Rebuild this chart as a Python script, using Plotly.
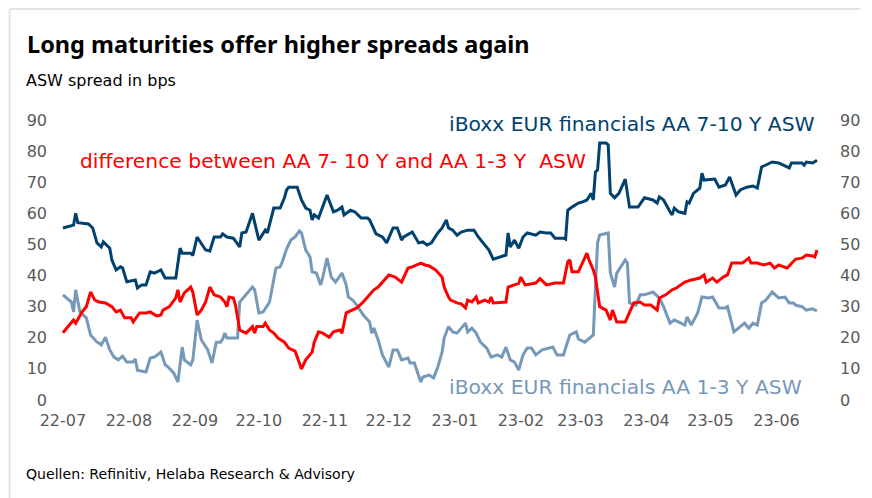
import plotly.graph_objects as go

# iBoxx EUR financials AA 7-10 Y ASW (bps)
long_dates = ["2022-07-01","2022-07-06","2022-07-07","2022-07-08","2022-07-13","2022-07-15","2022-07-17","2022-07-19","2022-07-20","2022-07-23","2022-07-24","2022-07-26","2022-07-28","2022-07-29","2022-07-31",
 "2022-08-04","2022-08-05","2022-08-07","2022-08-09","2022-08-11","2022-08-13","2022-08-16","2022-08-18","2022-08-23","2022-08-25","2022-08-26","2022-08-30","2022-08-31",
 "2022-09-02","2022-09-04","2022-09-06","2022-09-08","2022-09-10","2022-09-13","2022-09-14","2022-09-16","2022-09-19","2022-09-22","2022-09-23","2022-09-25","2022-09-28",
 "2022-10-01","2022-10-03","2022-10-04","2022-10-05","2022-10-08","2022-10-11","2022-10-13","2022-10-14","2022-10-15","2022-10-19","2022-10-21","2022-10-23","2022-10-25","2022-10-26","2022-10-27","2022-10-29","2022-10-31",
 "2022-11-02","2022-11-05","2022-11-07","2022-11-09","2022-11-10","2022-11-13","2022-11-15","2022-11-18","2022-11-21","2022-11-22","2022-11-23","2022-11-25","2022-11-28","2022-11-30",
 "2022-12-03","2022-12-05","2022-12-07","2022-12-08","2022-12-12","2022-12-15","2022-12-17","2022-12-19","2022-12-21","2022-12-24","2022-12-26","2022-12-28","2022-12-29","2022-12-31",
 "2023-01-02","2023-01-04","2023-01-07","2023-01-10","2023-01-12","2023-01-15","2023-01-17","2023-01-19","2023-01-22","2023-01-25","2023-01-26","2023-01-27","2023-01-29","2023-01-31",
 "2023-02-02","2023-02-04","2023-02-08","2023-02-10","2023-02-13","2023-02-15","2023-02-17","2023-02-21","2023-02-22","2023-02-23","2023-02-25","2023-02-28",
 "2023-03-02","2023-03-04","2023-03-06","2023-03-07","2023-03-08","2023-03-09","2023-03-10","2023-03-13","2023-03-14","2023-03-15","2023-03-17","2023-03-19","2023-03-22","2023-03-24","2023-03-28","2023-03-31",
 "2023-04-04","2023-04-06","2023-04-07","2023-04-09","2023-04-12","2023-04-13","2023-04-14","2023-04-16","2023-04-19","2023-04-20","2023-04-21","2023-04-23","2023-04-26","2023-04-27","2023-04-28",
 "2023-05-03","2023-05-05","2023-05-08","2023-05-10","2023-05-13","2023-05-15","2023-05-18","2023-05-21","2023-05-23","2023-05-25","2023-05-27","2023-05-30",
 "2023-06-02","2023-06-07","2023-06-08","2023-06-13","2023-06-14","2023-06-15","2023-06-18","2023-06-20"]
long_vals = [55.3,56.2,60.0,57.0,56.6,55.3,50.5,49.2,50.8,48.8,45.0,41.8,42.8,42.5,38.0,
 38.6,36.0,37.0,37.0,41.2,40.8,41.8,39.2,39.2,48.8,47.2,47.2,46.5,
 52.4,50.5,48.2,47.9,52.4,52.4,53.4,52.4,52.0,49.2,53.7,54.0,60.0,
 51.4,53.7,54.6,53.7,61.7,61.7,65.0,67.5,68.4,68.4,64.3,61.7,61.0,57.9,59.5,58.5,62.0,
 65.9,60.5,61.0,62.0,59.5,61.0,60.5,58.5,58.5,57.9,56.2,53.4,52.4,50.5,
 55.3,55.3,51.4,52.4,54.0,50.5,50.8,49.8,50.5,53.7,55.3,57.9,55.3,54.6,
 53.0,54.0,54.6,54.6,52.4,49.8,48.2,45.3,46.0,46.6,53.7,49.2,51.4,48.8,
 52.4,53.7,53.0,54.0,53.7,53.7,52.0,52.0,51.7,61.0,62.0,63.3,
 63.7,64.3,66.4,64.3,73.3,73.9,82.6,82.6,82.0,66.4,65.0,66.4,71.0,62.0,62.0,65.0,
 64.3,63.3,65.3,64.3,60.5,59.5,61.7,60.5,60.0,63.7,63.3,66.4,68.1,72.9,70.7,
 71.0,68.4,69.1,71.7,65.9,67.5,68.4,68.8,68.1,74.9,75.5,76.5,
 76.2,74.6,76.2,76.2,75.5,76.5,76.2,77.1]

# difference between AA 7-10 Y and AA 1-3 Y ASW (bps)
diff_dates = ["2022-07-01","2022-07-06","2022-07-07","2022-07-10","2022-07-12","2022-07-14","2022-07-16","2022-07-18","2022-07-21","2022-07-24","2022-07-26","2022-07-28","2022-07-30",
 "2022-08-02","2022-08-03","2022-08-06","2022-08-09","2022-08-11","2022-08-14","2022-08-16","2022-08-17","2022-08-20","2022-08-23","2022-08-24","2022-08-25","2022-08-27","2022-08-30","2022-08-31",
 "2022-09-02","2022-09-04","2022-09-06","2022-09-08","2022-09-10","2022-09-13","2022-09-15","2022-09-16","2022-09-17","2022-09-19","2022-09-20","2022-09-22","2022-09-25","2022-09-28","2022-09-29","2022-09-30",
 "2022-10-03","2022-10-04","2022-10-06","2022-10-08","2022-10-10","2022-10-13","2022-10-15","2022-10-18","2022-10-21","2022-10-23","2022-10-26","2022-10-27","2022-10-29","2022-10-31",
 "2022-11-03","2022-11-05","2022-11-08","2022-11-09","2022-11-11","2022-11-12","2022-11-16","2022-11-19","2022-11-22","2022-11-24","2022-11-26","2022-11-28",
 "2022-12-01","2022-12-04","2022-12-07","2022-12-10","2022-12-12","2022-12-16","2022-12-18","2022-12-20","2022-12-23","2022-12-26","2022-12-27","2022-12-29","2022-12-30",
 "2023-01-02","2023-01-04","2023-01-06","2023-01-07","2023-01-09","2023-01-11","2023-01-12","2023-01-15","2023-01-17","2023-01-18","2023-01-19","2023-01-25","2023-01-26","2023-01-31",
 "2023-02-01","2023-02-03","2023-02-08","2023-02-10","2023-02-13","2023-02-17","2023-02-21","2023-02-23","2023-02-24","2023-02-25","2023-02-28",
 "2023-03-02","2023-03-04","2023-03-05","2023-03-07","2023-03-08","2023-03-09","2023-03-10","2023-03-13","2023-03-15","2023-03-16","2023-03-18","2023-03-22","2023-03-24","2023-03-26","2023-03-29","2023-03-31",
 "2023-04-03","2023-04-06","2023-04-07","2023-04-10","2023-04-13","2023-04-15","2023-04-19","2023-04-22","2023-04-26","2023-04-28","2023-04-29",
 "2023-05-02","2023-05-04","2023-05-07","2023-05-09","2023-05-11","2023-05-16","2023-05-19","2023-05-20","2023-05-23","2023-05-26","2023-05-29","2023-05-31",
 "2023-06-02","2023-06-06","2023-06-08","2023-06-10","2023-06-13","2023-06-15","2023-06-18","2023-06-19","2023-06-20"]
diff_vals = [21.6,25.7,24.7,28.3,30.0,34.7,32.1,31.5,31.2,30.0,28.3,28.9,26.4,
 26.4,25.1,28.0,28.0,28.3,27.0,27.3,28.9,30.0,32.8,35.4,31.5,34.4,36.3,34.7,
 27.3,28.9,31.5,36.3,33.8,33.1,31.5,30.0,33.1,32.8,30.5,22.5,21.5,23.6,21.5,23.6,
 23.6,24.7,22.5,21.5,19.9,18.6,16.7,15.7,10.0,12.9,15.4,18.6,21.9,21.5,
 20.2,21.9,22.5,21.5,28.0,28.3,29.6,31.5,33.8,35.4,36.3,37.9,
 40.2,39.5,37.9,42.4,42.8,44.0,43.4,43.1,41.8,39.5,36.3,33.1,32.1,
 31.2,30.9,29.6,32.1,31.5,33.1,31.2,32.1,31.5,33.1,31.2,31.5,36.3,37.5,
 39.5,37.0,37.6,39.0,37.0,37.6,37.6,44.4,45.0,41.2,41.2,
 44.0,47.2,45.0,41.8,39.5,34.4,30.0,28.9,25.7,28.9,25.1,25.1,28.0,31.2,31.5,30.5,
 30.5,28.9,32.8,33.8,35.4,36.0,37.9,38.6,39.2,40.2,37.9,
 39.2,37.9,39.5,40.2,44.0,44.0,45.6,44.0,44.0,43.4,44.0,42.4,
 43.4,42.4,44.0,45.3,45.6,46.6,46.3,46.0,48.2]

# iBoxx EUR financials AA 1-3 Y ASW (bps)
short_dates = ["2022-07-01","2022-07-05","2022-07-06","2022-07-07","2022-07-09","2022-07-12","2022-07-14","2022-07-17","2022-07-18","2022-07-19","2022-07-21","2022-07-23","2022-07-25","2022-07-27","2022-07-29","2022-07-31",
 "2022-08-03","2022-08-04","2022-08-05","2022-08-09","2022-08-11","2022-08-13","2022-08-16","2022-08-18","2022-08-19","2022-08-22","2022-08-24","2022-08-26","2022-08-27","2022-08-30","2022-08-31",
 "2022-09-02","2022-09-04","2022-09-07","2022-09-09","2022-09-11","2022-09-13","2022-09-14","2022-09-15","2022-09-16","2022-09-21","2022-09-22","2022-09-28","2022-09-29",
 "2022-10-01","2022-10-03","2022-10-06","2022-10-08","2022-10-09","2022-10-11","2022-10-12","2022-10-14","2022-10-16","2022-10-18","2022-10-20","2022-10-21","2022-10-23","2022-10-25","2022-10-26","2022-10-28","2022-10-30","2022-10-31",
 "2022-11-02","2022-11-04","2022-11-06","2022-11-09","2022-11-11","2022-11-12","2022-11-14","2022-11-16","2022-11-19","2022-11-22","2022-11-23","2022-11-24","2022-11-26","2022-11-28",
 "2022-12-01","2022-12-03","2022-12-05","2022-12-07","2022-12-10","2022-12-11","2022-12-13","2022-12-16","2022-12-17","2022-12-20","2022-12-22","2022-12-24","2022-12-26","2022-12-27","2022-12-29","2022-12-31",
 "2023-01-02","2023-01-04","2023-01-06","2023-01-07","2023-01-09","2023-01-11","2023-01-13","2023-01-16","2023-01-18","2023-01-21","2023-01-23","2023-01-25","2023-01-27","2023-01-29","2023-01-31",
 "2023-02-02","2023-02-04","2023-02-06","2023-02-08","2023-02-11","2023-02-15","2023-02-16","2023-02-18","2023-02-21","2023-02-22","2023-02-24","2023-02-27","2023-02-28",
 "2023-03-03","2023-03-05","2023-03-07","2023-03-08","2023-03-09","2023-03-10","2023-03-14","2023-03-15","2023-03-17","2023-03-18","2023-03-22","2023-03-23","2023-03-24","2023-03-27","2023-03-29","2023-03-31",
 "2023-04-04","2023-04-07","2023-04-09","2023-04-12","2023-04-14","2023-04-16","2023-04-19","2023-04-20","2023-04-22","2023-04-25","2023-04-27","2023-04-30",
 "2023-05-02","2023-05-05","2023-05-08","2023-05-09","2023-05-12","2023-05-15","2023-05-17","2023-05-19","2023-05-21","2023-05-23","2023-05-25","2023-05-27","2023-05-30",
 "2023-06-02","2023-06-05","2023-06-07","2023-06-09","2023-06-10","2023-06-13","2023-06-15","2023-06-18","2023-06-20"]
short_vals = [33.8,31.5,28.3,35.4,28.3,26.4,20.9,18.6,18.3,17.7,20.2,16.1,13.8,12.9,14.1,12.2,
 12.2,13.2,9.6,9.0,13.5,13.8,15.4,11.3,10.9,8.7,5.8,17.0,12.9,11.3,12.9,
 25.7,19.3,16.1,11.9,18.6,18.6,19.6,21.5,19.9,19.9,31.5,36.3,35.5,
 28.0,28.3,31.5,38.6,42.4,42.8,44.4,48.5,51.4,52.4,54.3,53.7,48.2,46.0,41.2,40.8,37.0,39.5,
 45.6,39.5,37.9,40.8,37.0,33.1,32.1,30.5,27.3,25.1,21.5,23.1,19.3,14.5,
 10.6,16.1,16.1,12.9,13.5,11.9,11.9,5.8,7.4,8.0,7.1,10.6,15.4,19.9,23.6,21.9,
 21.5,23.1,24.7,21.9,23.1,21.5,18.6,16.7,13.8,14.5,13.8,17.0,12.9,12.2,9.6,
 14.5,16.7,16.7,14.5,16.1,16.7,17.0,14.5,14.5,16.7,20.9,21.9,19.6,
 18.6,19.9,20.9,36.3,50.5,53.0,53.7,40.8,36.3,40.8,45.0,44.0,31.2,30.5,33.8,33.8,
 34.7,32.8,30.0,24.7,25.7,25.1,24.1,26.7,24.1,28.0,33.1,32.8,
 33.1,29.6,29.6,30.0,21.9,23.6,24.7,23.1,24.7,24.1,31.2,32.1,34.7,
 32.8,33.1,31.2,31.2,30.5,30.0,28.9,29.3,28.6]

tick_dates = ["2022-07-01","2022-08-01","2022-09-01","2022-10-01","2022-11-01","2022-12-01",
              "2023-01-01","2023-02-01","2023-03-01","2023-04-01","2023-05-01","2023-06-01"]
y_ticks = [0, 10, 20, 30, 40, 50, 60, 70, 80, 90]

DARK = "#00416E"
LIGHT = "#7698B9"
RED = "#FF0000"
TICK = "#595959"
SANS = "Noto Sans"
WIDE = "DejaVu Sans"

fig = go.Figure()
fig.add_trace(go.Scatter(x=short_dates, y=short_vals, mode="lines",
                         line=dict(color=LIGHT, width=3), name="1-3Y"))
fig.add_trace(go.Scatter(x=diff_dates, y=diff_vals, mode="lines",
                         line=dict(color=RED, width=3), name="diff"))
fig.add_trace(go.Scatter(x=long_dates, y=long_vals, mode="lines", yaxis="y2",
                         line=dict(color=DARK, width=3), name="7-10Y"))

# the page places the figure 8px from the top-left corner (body margin)
OFF = 8
W, H = 864, 490
L, R, T, B = 55 - OFF, 34, 120 - OFF, 98

tick_font = dict(family=WIDE, size=16, color=TICK)

fig.update_layout(
    width=W, height=H,
    margin=dict(l=L, r=R, t=T, b=B),
    paper_bgcolor="white", plot_bgcolor="white",
    showlegend=False,
    font=dict(family=SANS),
    xaxis=dict(type="date", range=["2022-06-27 07:00", "2023-06-24 17:00"],
               tickvals=tick_dates, tickformat="%y-%m", showgrid=False,
               zeroline=False, showline=False, ticks="", tickfont=tick_font,
               ticklabelstandoff=9),
    yaxis=dict(range=[0, 90], tickvals=y_ticks, showgrid=False, zeroline=False,
               showline=False, ticks="", tickfont=tick_font, ticklabelstandoff=7),
    yaxis2=dict(range=[0, 90], tickvals=y_ticks, overlaying="y", side="right",
                showgrid=False, zeroline=False, showline=False, ticks="",
                tickfont=tick_font, ticklabelstandoff=12),
)

pw = W - L - R
ph = H - T - B

def px(x):
    return (x - OFF - L) / pw

def py(y):
    return (H - B - (y - OFF)) / ph

annotations = [
    dict(text="<b>Long maturities offer higher spreads again</b>", x=px(25), y=py(44),
         xanchor="left", yanchor="middle", font=dict(size=23.5, color="black", family=SANS)),
    dict(text="ASW spread in bps", x=px(24), y=py(80), xanchor="left", yanchor="middle",
         font=dict(size=16, color="black", family=WIDE)),
    dict(text="Quellen: Refinitiv, Helaba Research &amp; Advisory", x=px(24), y=py(474),
         xanchor="left", yanchor="middle", font=dict(size=14.1, color="black", family=WIDE)),
    dict(text="iBoxx EUR financials AA 7-10 Y ASW", x=px(453), y=py(124),
         xanchor="left", yanchor="middle", font=dict(size=20.3, color=DARK, family=WIDE)),
    dict(text="difference between AA 7- 10 Y and AA 1-3 Y  ASW", x=px(78), y=py(161),
         xanchor="left", yanchor="middle", font=dict(size=20.3, color=RED, family=WIDE)),
    dict(text="iBoxx EUR financials AA 1-3 Y ASW", x=px(453), y=py(387),
         xanchor="left", yanchor="middle", font=dict(size=20.3, color=LIGHT, family=WIDE)),
]
for a in annotations:
    a.update(xref="paper", yref="paper", showarrow=False)
fig.update_layout(annotations=annotations)

# light grey frame lines (top and left)
fig.add_shape(type="line", xref="paper", yref="paper", x0=px(9), x1=px(872), y0=py(9), y1=py(9),
              line=dict(color="#E3E3E3", width=2))
fig.add_shape(type="line", xref="paper", yref="paper", x0=px(9), x1=px(9), y0=py(9), y1=py(498),
              line=dict(color="#E3E3E3", width=2))

fig.write_html("out.html")
